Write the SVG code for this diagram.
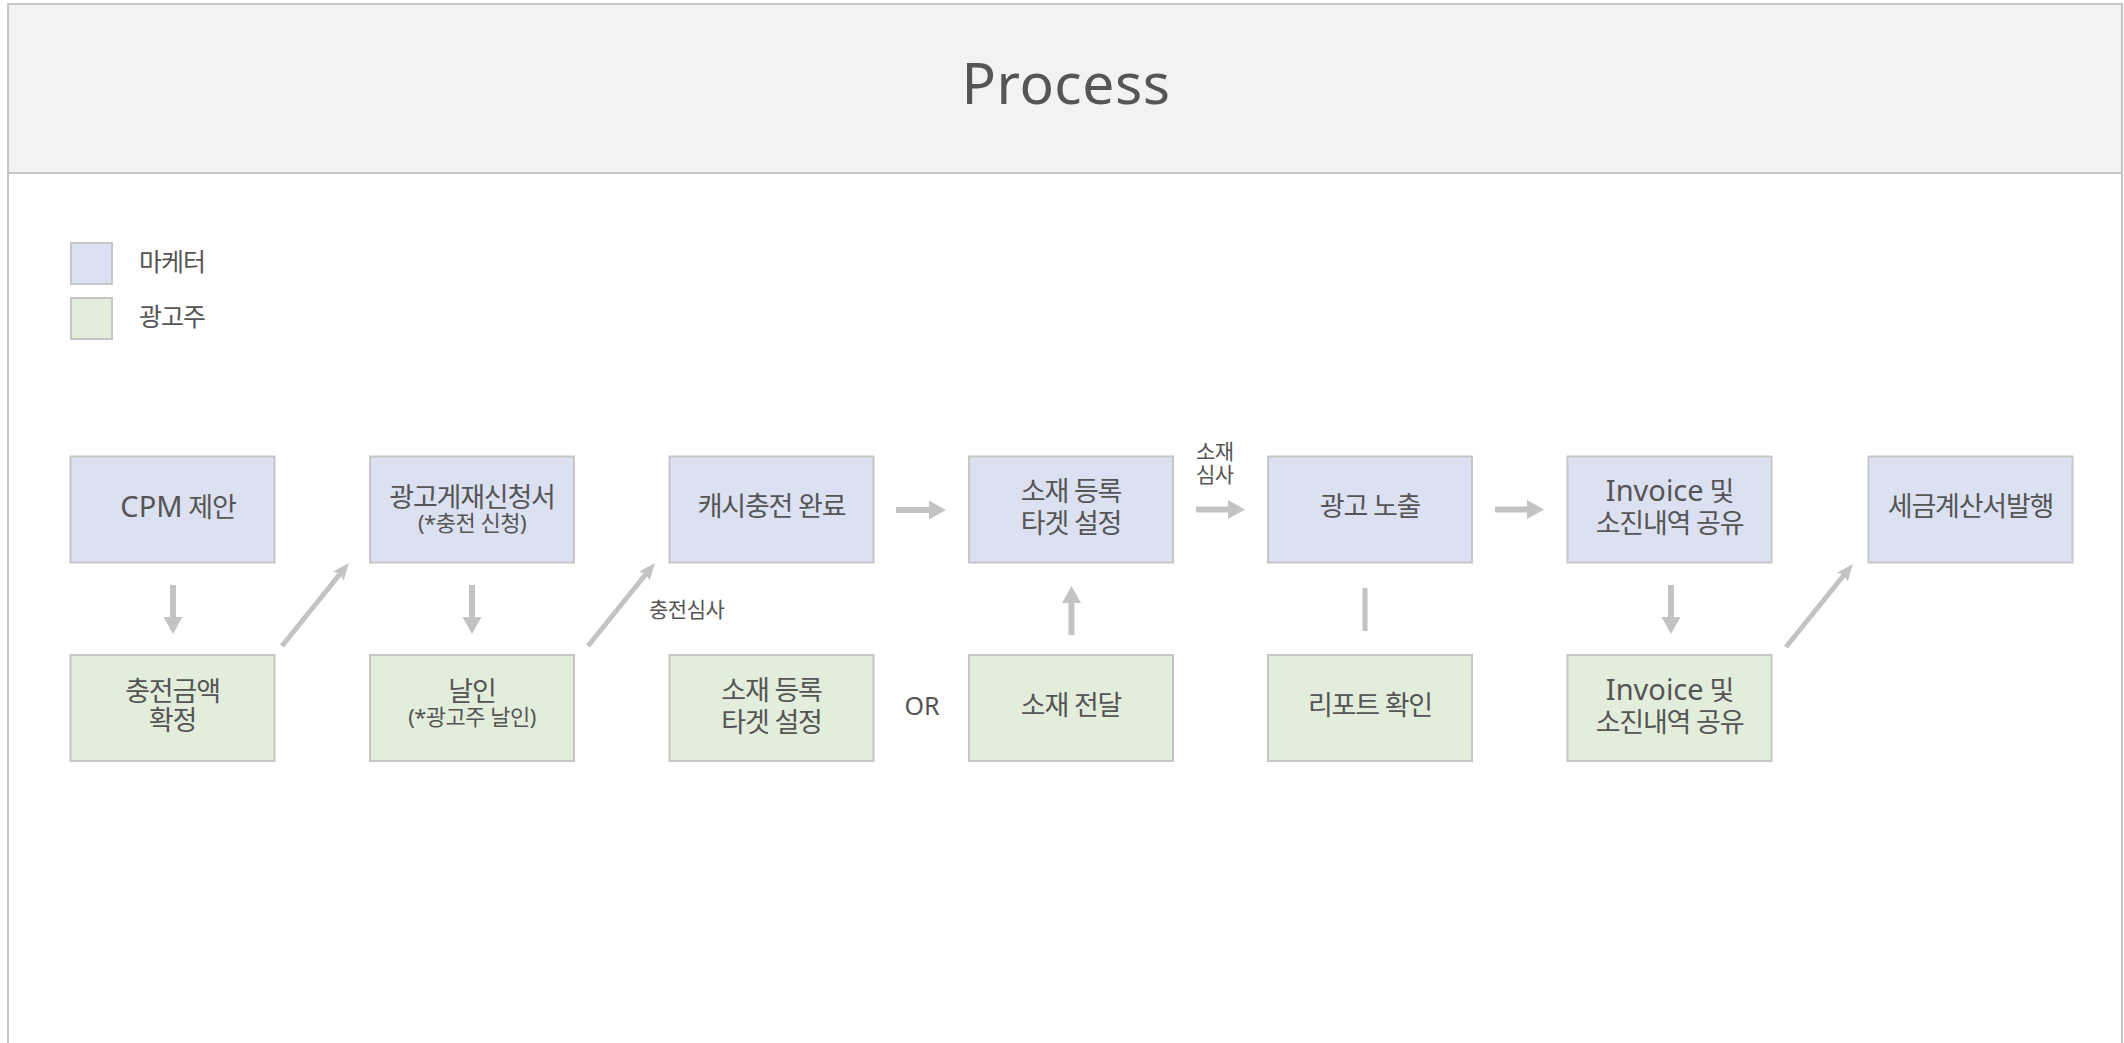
<svg xmlns="http://www.w3.org/2000/svg" width="2124" height="1043" viewBox="0 0 2124 1043">
<defs>
<style>
text{font-family:'Noto Sans','Noto Sans CJK KR',sans-serif;fill:#555555;}
.t{font-size:27px;text-anchor:middle;letter-spacing:-1.2px;}
.lat{font-size:29px;letter-spacing:0;}
.s{font-size:22px;letter-spacing:-0.5px;}
.lbl{font-size:21px;letter-spacing:-0.5px;}
.mk{fill:#dbe1f1;stroke:#c6c6c6;stroke-width:2;}
.ad{fill:#e2eedb;stroke:#c6c6c6;stroke-width:2;}
.ar{stroke:#c3c3c3;stroke-width:6;fill:none;marker-end:url(#head);}
.dg{stroke:#c3c3c3;stroke-width:5;fill:none;marker-end:url(#dhead);}
</style>
<marker id="head" markerUnits="userSpaceOnUse" markerWidth="18" markerHeight="20" refX="7" refY="9.5" orient="auto">
<path d="M0,0 L17,9.5 L0,19 Z" fill="#c3c3c3"/>
</marker>
<marker id="dhead" markerUnits="userSpaceOnUse" markerWidth="18" markerHeight="16" refX="6" refY="7" orient="auto">
<path d="M0,0 L17,7 L0,14 L3,7 Z" fill="#c3c3c3"/>
</marker>
</defs>
<rect x="0" y="0" width="2124" height="1043" fill="#ffffff"/>
<g id="frame">
<rect x="8" y="4" width="2114" height="1060" fill="#ffffff" stroke="#c6c6c6" stroke-width="2"/>
<rect x="8" y="4" width="2114" height="169" fill="#f2f2f2" stroke="#c6c6c6" stroke-width="2"/>
<text x="1066" y="104" font-size="57" text-anchor="middle" letter-spacing="0.5">Process</text>
</g>
<g id="legend">
<rect class="mk" x="71" y="243" width="41" height="41"/>
<text x="139" y="271" font-size="25" letter-spacing="-1">마케터</text>
<rect class="ad" x="71" y="298" width="41" height="41"/>
<text x="139" y="326" font-size="25" letter-spacing="-1">광고주</text>
</g>
<g id="connectors">
<line class="ar" x1="173" y1="585" x2="173" y2="624"/>
<line class="dg" x1="282" y1="646" x2="342" y2="571.5"/>
<line class="ar" x1="472" y1="585" x2="472" y2="624"/>
<line class="dg" x1="588" y1="646" x2="648" y2="571.5"/>
<line class="ar" x1="896" y1="510" x2="936" y2="510"/>
<line class="ar" x1="1071.5" y1="635" x2="1071.5" y2="596"/>
<line class="ar" x1="1196" y1="509.5" x2="1235" y2="509.5"/>
<line x1="1365" y1="588" x2="1365" y2="631" stroke="#c3c3c3" stroke-width="5"/>
<line class="ar" x1="1495" y1="509.5" x2="1534" y2="509.5"/>
<line class="ar" x1="1671" y1="585" x2="1671" y2="624"/>
<line class="dg" x1="1786" y1="647" x2="1846" y2="572.5"/>
<text class="lbl" x="649" y="617">충전심사</text>
<text class="lbl" y="459"><tspan x="1196">소재</tspan><tspan x="1196" y="482">심사</tspan></text>
<text x="922" y="715" font-size="25" text-anchor="middle">OR</text>
</g>
<g id="n1">
<rect class="mk" x="70.5" y="456.5" width="204" height="106"/>
<text class="t" x="178" y="517"><tspan class="lat">CPM</tspan> 제안</text>
</g>
<g id="n2">
<rect class="mk" x="370" y="456.5" width="204" height="106"/>
<text class="t" y="507"><tspan x="472">광고게재신청서</tspan><tspan class="s" x="472" y="531">(*충전 신청)</tspan></text>
</g>
<g id="n3">
<rect class="mk" x="669.5" y="456.5" width="204" height="106"/>
<text class="t" x="771.5" y="516">캐시충전 완료</text>
</g>
<g id="n4">
<rect class="mk" x="969" y="456.5" width="204" height="106"/>
<text class="t" y="501"><tspan x="1071">소재 등록</tspan><tspan x="1071" y="533">타겟 설정</tspan></text>
</g>
<g id="n5">
<rect class="mk" x="1268" y="456.5" width="204" height="106"/>
<text class="t" x="1370" y="516">광고 노출</text>
</g>
<g id="n6">
<rect class="mk" x="1567.5" y="456.5" width="204" height="106"/>
<text class="t" y="501"><tspan x="1669.5"><tspan class="lat">Invoice</tspan> 및</tspan><tspan x="1669.5" y="533">소진내역 공유</tspan></text>
</g>
<g id="n7">
<rect class="mk" x="1868.5" y="456.5" width="204" height="106"/>
<text class="t" x="1970.5" y="516">세금계산서발행</text>
</g>
<g id="g1">
<rect class="ad" x="70.5" y="655" width="204" height="106"/>
<text class="t" y="701"><tspan x="172.5">충전금액</tspan><tspan x="172.5" y="730">확정</tspan></text>
</g>
<g id="g2">
<rect class="ad" x="370" y="655" width="204" height="106"/>
<text class="t" y="701"><tspan x="472">날인</tspan><tspan class="s" x="472" y="725">(*광고주 날인)</tspan></text>
</g>
<g id="g3">
<rect class="ad" x="669.5" y="655" width="204" height="106"/>
<text class="t" y="700"><tspan x="771.5">소재 등록</tspan><tspan x="771.5" y="732">타겟 설정</tspan></text>
</g>
<g id="g4">
<rect class="ad" x="969" y="655" width="204" height="106"/>
<text class="t" x="1071" y="715">소재 전달</text>
</g>
<g id="g5">
<rect class="ad" x="1268" y="655" width="204" height="106"/>
<text class="t" x="1370" y="715">리포트 확인</text>
</g>
<g id="g6">
<rect class="ad" x="1567.5" y="655" width="204" height="106"/>
<text class="t" y="700"><tspan x="1669.5"><tspan class="lat">Invoice</tspan> 및</tspan><tspan x="1669.5" y="732">소진내역 공유</tspan></text>
</g>
</svg>
